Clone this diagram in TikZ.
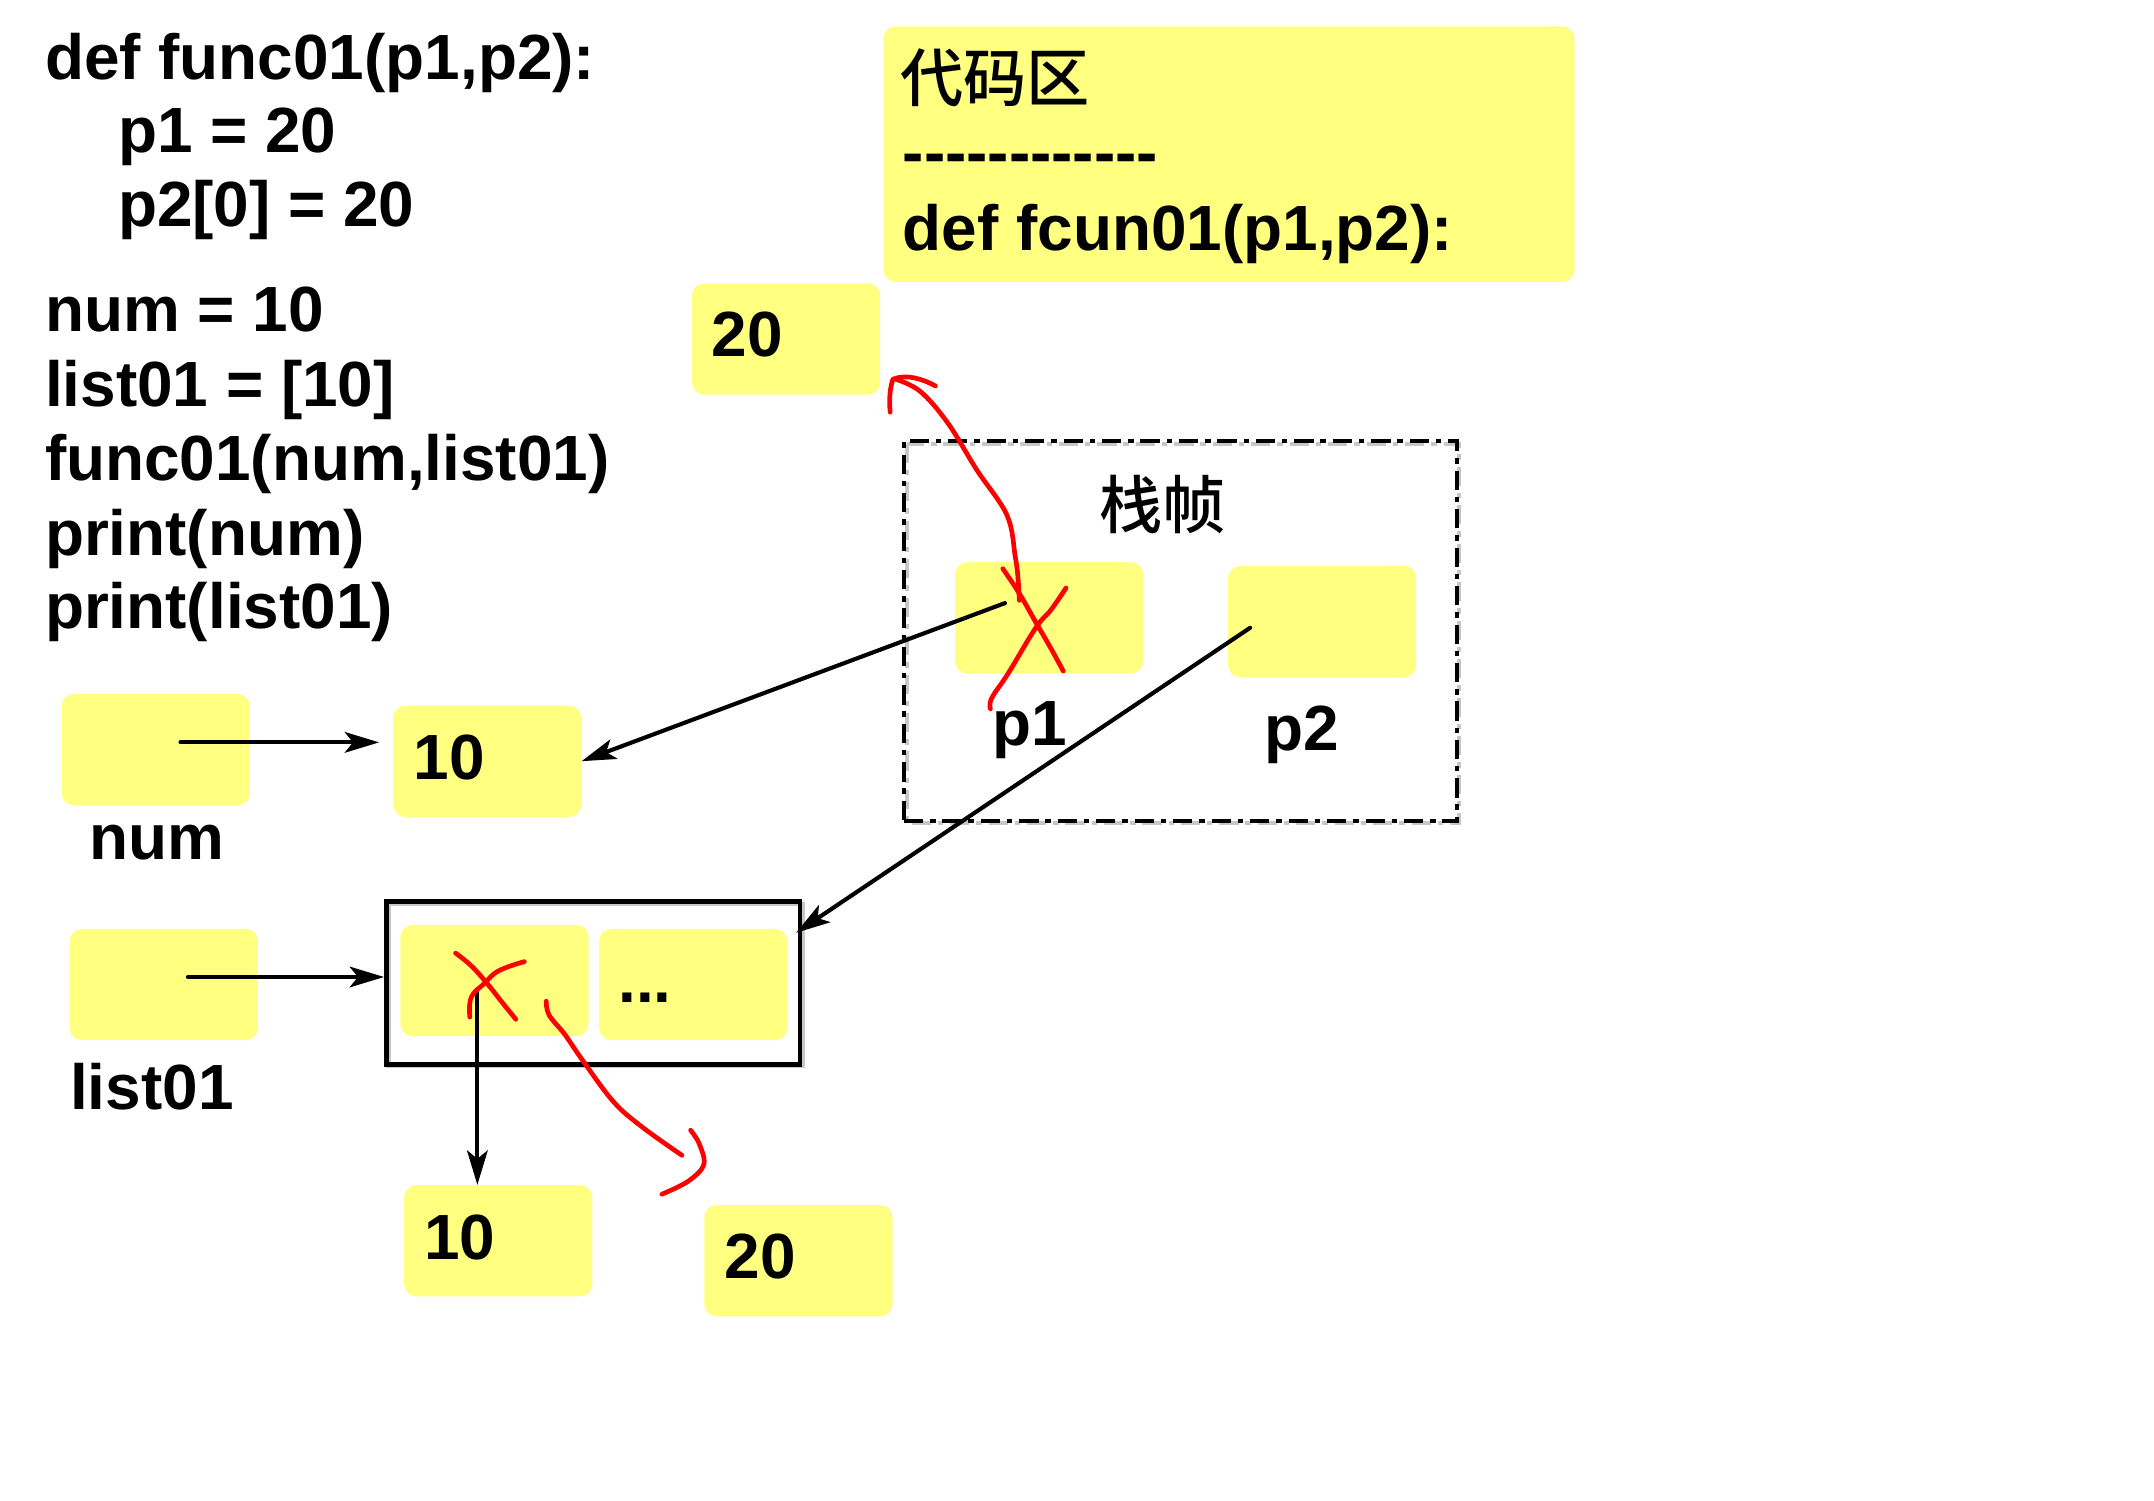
\documentclass[tikz,border=0pt]{standalone}
\usepackage{fontspec}
\setmainfont{Liberation Sans}
\newfontfamily\cjk{Noto Sans CJK SC}[UprightFont=* Medium]
\usetikzlibrary{arrows.meta,calc}
\definecolor{boxyellow}{RGB}{255,255,128}
\newcommand{\hy}{-\kern0pt}
\begin{document}
\begin{tikzpicture}[x=1pt,y=-1pt,
  ybox/.style={fill=boxyellow, draw=none, rounded corners=9pt, minimum width=137pt, minimum height=81pt, anchor=north west, inner sep=0pt},
  txt/.style={anchor=base west, inner sep=0pt, font=\fontsize{46.5}{54}\selectfont\bfseries},
  cjktxt/.style={anchor=base west, inner sep=0pt, font=\fontsize{46}{54}\selectfont\cjk},
  arr/.style={line width=3pt, line cap=round, -{Stealth[length=25pt,width=15pt,inset=6pt]}},
  pen/.style={draw=red, line width=3.4pt, line cap=round, line join=round},
  shadowline/.style={draw=black!22, line width=3pt},
]
\useasboundingbox (0,0) rectangle (1568,1092);

% ---- code on the left
\node[txt] (c1) at (32.6,57.6) {def func01(p1,p2):};
\node[txt] (c2) at (85.7,110.7) {p1 = 20};
\node[txt] (c3) at (85.7,165.2) {p2[0] = 20};
\node[txt] (c4) at (32.6,241.6) {num = 10};
\node[txt] (c5) at (32.6,295.7) {list01 = [10]};
\node[txt] (c6) at (32.6,349.8) {func01(num,list01)};
\node[txt] (c7) at (32.6,404.2) {print(num)};
\node[txt] (c8) at (32.6,457.7) {print(list01)};

% ---- code area
\node[ybox, minimum width=503pt, minimum height=186pt] (codearea) at (643,19) {};
\node[cjktxt] (cahead) at (655,74) {代码区};
\node[txt] (cadash) at (657,127) {\hy\hy\hy\hy\hy\hy\hy\hy\hy\hy\hy-};
\node[txt] (cadef) at (657,182) {def fcun01(p1,p2):};

% ---- 20 (top)
\node[ybox] (twentytop) at (503.5,206) {};
\node[txt] (twentytoplbl) at (518,259.7) {20};

% ---- stack frame
\draw[shadowline, dash pattern=on 14pt off 5pt on 4pt off 5pt] (660,323) rectangle (1062,599.4);
\node[draw=black, line width=3pt, dash pattern=on 14pt off 5pt on 4pt off 5pt,
      minimum width=402.7pt, minimum height=276.8pt, anchor=north west, inner sep=0pt] (frame) at (656.5,319.6) {};
\node[cjktxt] (framelbl) at (800,385) {栈帧};
\node[ybox] (p1box) at (695,409) {};
\node[ybox] (p2box) at (893.7,411.8) {};
\node[txt] (p1lbl) at (722,543) {p1};
\node[txt] (p2lbl) at (920,546.5) {p2};

% ---- num
\node[ybox] (numbox) at (44.6,505) {};
\node[txt] (numlbl) at (64.7,625.3) {num};
\node[ybox] (tenbox) at (286,513.4) {};
\node[txt] (tenlbl) at (301,567.7) {10};

% ---- list01
\node[ybox] (listbox) at (50.5,676) {};
\node[txt] (listlbl) at (50.9,807.9) {list01};
\draw[shadowline, line width=3.5pt] (283,658) rectangle (584,776);
\node[draw=black, line width=3.5pt, minimum width=301pt, minimum height=118.6pt,
      anchor=north west, inner sep=0pt] (listframe) at (279.6,654.4) {};
\node[ybox] (elembox) at (291.2,673) {};
\node[ybox] (dotsbox) at (436,676) {};
\node[txt] (dotslbl) at (450,729.7) {...};
\node[ybox] (tenbot) at (294,862.5) {};
\node[txt] (tenbotlbl) at (308.5,916.8) {10};
\node[ybox] (twentybot) at (512.5,877) {};
\node[txt] (twentybotlbl) at (527.5,930.6) {20};

% ---- pointer origins
\coordinate (numptr) at (131.4,540.4);
\coordinate (listptr) at (136.8,711.2);
\coordinate (p1ptr) at (731.6,439);
\coordinate (p2ptr) at (910,457);
\coordinate (p2tip) at (579.5,679);
\coordinate (elemptr) at (347.5,720);

% ---- black arrows
\draw[arr, shorten >=10pt] (numptr) -- (numptr -| tenbox.west);
\draw[arr] (listptr) -- (listptr -| listframe.west);
\draw[arr] (p1ptr) -- (tenbox.east);
\draw[arr] (p2ptr) -- (p2tip);
\draw[arr] (elemptr) -- (elemptr |- tenbot.north);

% ---- red handwriting
\draw[pen] plot[smooth, tension=0.7] coordinates {(730,414) (742,432) (754,453) (765,472) (774,488.5)};
\draw[pen] plot[smooth, tension=0.7] coordinates {(776,428) (765,444) (754,457) (734,490) (722,508) (721,516)};
\draw[pen] plot[smooth, tension=0.6] coordinates {(742,437) (741,420) (739,405) (733,375) (711,342) (690,308) (670,285) (652,276)};
\draw[pen] (648,300) .. controls (647,290) and (648,282) .. (650,276) .. controls (660,272) and (672,276) .. (681,281);

\draw[pen] plot[smooth, tension=0.7] coordinates {(331.6,693.8) (343,703) (354.6,715.9) (365,729) (375.5,742)};
\draw[pen] plot[smooth, tension=0.7] coordinates {(381.7,700) (363,706.7) (352.5,716) (343,726) (342,740.4)};
\draw[pen] plot[smooth, tension=0.6] coordinates {(397.6,728.8) (399.7,738.9) (411,752.8) (423.5,771) (446.4,801.8) (467.2,820.2) (496.4,841)};
\draw[pen] plot[smooth, tension=0.6] coordinates {(502.7,822.7) (508.9,832.4) (512.3,847.8) (500.6,860.1) (481.8,869.3)};
\end{tikzpicture}
\end{document}
